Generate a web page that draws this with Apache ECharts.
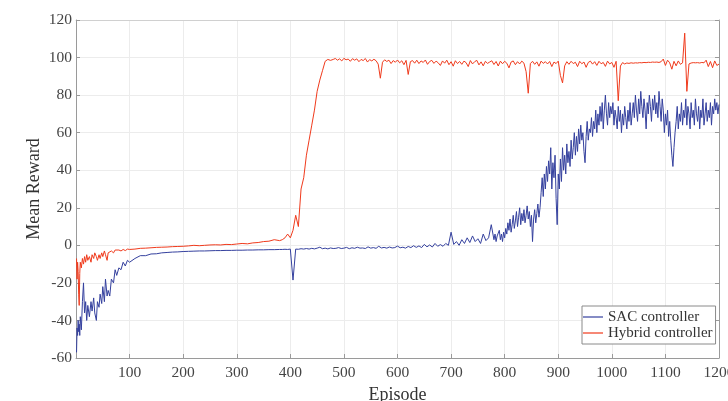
<!DOCTYPE html>
<html>
<head>
<meta charset="utf-8">
<script src="https://cdn.jsdelivr.net/npm/echarts@6/dist/echarts.min.js"></script>
<style>
html,body{margin:0;padding:0;background:#fff;}
#chart{width:728px;height:401px;}
</style>
</head>
<body>
<div id="chart"></div>
<script>
// ---- SAC controller: episodes and mean reward ----
var sacEpisodes = [
1,2,3,4,5,6,7,8,10,12,14,16,18,20,22,25,28,30,33,35,38,40,43,45,48,50,53,55,58,60,63,66,70,73,76,80,84,88,92,96,100,
110,120,130,140,150,160,170,180,190,200,210,220,230,240,250,260,270,280,290,300,310,320,330,340,350,360,370,380,
385,390,395,400,405,410,415,420,425,430,435,440,445,450,455,460,465,470,475,480,
485,490,495,500,505,510,515,520,525,530,
535,540,545,550,555,560,565,570,575,580,
585,590,595,600,605,610,615,620,625,630,
635,640,645,650,655,660,665,670,675,680,
685,690,695,700,705,710,715,720,725,730,
735,740,745,750,755,760,765,770,775,
780,782,784,786,788,790,792,794,796,798,
800,802,804,806,808,810,812,814,816,818,
820,822,824,826,828,830,832,834,836,838,
840,842,844,846,848,850,852,854,856,858,
860,862,864,866,868,870,872,874,876,878,
880,882,884,886,888,890,892,894,896,898,
900,902,904,906,908,910,912,914,916,918,
920,922,924,926,928,930,932,934,936,938,
940,942,944,946,948,950,952,954,956,958,
960,962,964,966,968,970,972,974,976,978,
980,982,984,986,988,990,992,994,996,998,
1000,1002,1004,1006,1008,1010,1012,1014,1016,1018,
1020,1022,1024,1026,1028,1030,1032,1034,1036,1038,
1040,1042,1044,1046,1048,1050,1052,1054,1056,1058,
1060,1062,1064,1066,1068,1070,1072,1074,1076,1078,
1080,1082,1084,1086,1088,1090,1092,1094,1096,1098,
1100,1102,1104,1106,1108,1110,1112,1114,1116,1118,
1120,1122,1124,1126,1128,1130,1132,1134,1136,1138,
1140,1142,1144,1146,1148,1150,1152,1154,1156,1158,
1160,1162,1164,1166,1168,1170,1172,1174,1176,1178,
1180,1182,1184,1186,1188,1190,1192,1194,1196,1198,
1200
];
var sacReward = [
-57,-44,-48,-40,-46,-42,-48,-38,-45,-30,-20,-36,-30,-40,-32,-38,-30,-35,-28,-36,-40,-30,-33,-26,-31,-22,-30,-18,-27,-24,-27,-18,-20,-13,-16,-12,-13,-9,-11,-8,-9,
-7,-5.5,-5.5,-4.6,-4.5,-4,-3.8,-3.6,-3.5,-3.3,-3.2,-3.1,-3,-3,-2.9,-2.8,-2.8,-2.7,-2.7,-2.6,-2.6,-2.5,-2.5,-2.4,-2.4,-2.3,-2.3,-2.2,
-2.2,-2.1,-2.2,-2,-18.5,-2,-2.1,-1.8,-2,-1.7,-2,-1.6,-1.9,-1.5,-1,-1.8,-1.5,-1.9,-1.4,-1.7,
-1.6,-1.2,-1.7,-1.5,-1.1,-1.8,-1.3,-1.6,-1,-1.5,
-1.4,-1.7,-0.8,-1.5,-1.2,-1.6,-0.5,-1.4,-1.1,-1.5,
-0.9,-1.4,-1.2,-0.4,-1.3,-1,-1.5,-0.6,-1.2,-0.2,
-1.1,-0.3,-1.2,0.5,-0.8,0.2,-0.9,1,-0.5,0.4,
-0.5,1,0,7,0.5,2,0,3,1,4,
1.5,5,2,3.5,1,6,2.5,4,11,
3,6,2,5,4,8,3,6,2,7,
4,9,6,12,8,14,7,11,16,9,
13,18,10,15,20,11,17,13,19,12,
16,21,14,18,10,16,2,14,19,12,
17,22,15,20,28,36,26,38,30,42,
34,45,38,52,30,44,36,48,25,11,
38,30,46,34,52,40,48,38,54,44,
50,42,56,46,52,60,48,58,50,62,
54,64,56,60,50,44,58,66,56,62,
60,68,58,66,62,72,60,70,64,74,
66,76,62,72,80,70,64,76,68,74,
70,76,64,72,68,62,74,66,72,60,
70,64,74,68,62,72,66,76,64,70,
76,68,80,72,66,78,70,82,74,68,
78,72,62,76,70,80,74,66,78,72,
80,70,76,68,82,74,66,78,72,60,
70,64,72,58,66,56,48,42,52,60,
66,74,62,70,66,76,64,72,68,78,
64,74,70,62,76,68,72,64,78,70,
66,74,62,72,68,78,64,70,76,66,
72,68,76,64,74,70,78,72,76,70,
75
];

// ---- Hybrid controller: episodes and mean reward ----
var hybridEpisodes = [
1,2,3,4,5,6,7,8,10,12,14,16,18,20,22,25,28,30,33,35,38,40,43,45,48,50,53,55,58,60,63,66,70,73,76,80,84,88,92,96,100,
110,120,130,140,150,160,170,180,190,200,210,220,230,240,250,260,270,280,290,300,310,320,330,340,350,360,370,380,
385,390,395,400,405,410,415,420,425,430,435,440,445,450,455,460,465,470,475,
480,484,488,492,496,500,504,508,512,516,
520,524,528,532,536,540,544,548,552,556,
560,564,568,572,576,580,584,588,592,596,
600,604,608,612,616,620,624,628,632,636,
640,644,648,652,656,660,664,668,672,676,
680,684,688,692,696,700,704,708,712,716,
720,724,728,732,736,740,744,748,752,756,
760,764,768,772,776,780,784,788,792,796,
800,804,808,812,816,820,824,828,832,836,
840,844,848,852,856,860,864,868,872,876,
880,884,888,892,896,900,904,908,912,916,
920,924,928,932,936,940,944,948,952,956,
960,964,968,972,976,980,984,988,992,996,
1000,1004,1008,1012,1016,1020,1024,1028,1032,1036,
1040,1044,1048,1052,1056,1060,1064,1068,1072,1076,
1080,1084,1088,1092,1096,1100,1104,1108,1112,1116,
1120,1124,1128,1132,1136,1140,1144,1148,1152,1156,
1160,1164,1168,1172,1176,1180,1184,1188,1192,1196,
1200
];
var hybridReward = [
-7,-18,-9,-14,-26,-32,-15,-9,-12,-7,-10,-6,-9,-5,-8,-6,-9,-5,-7,-4,-6,-8,-5,-7,-4,-6,-3,-5,-8,-4,-5,-3,-4,-2.5,-3.5,-2.5,-3,-2.2,-2.8,-2,-2.2,
-2,-1.6,-1.5,-1.3,-1.1,-1,-0.9,-0.7,-0.6,-0.5,-0.3,0,-0.2,0,0.2,0.3,0.2,0.5,0.4,0.7,1,0.8,1.3,1.5,2,2.2,3,2.5,
3,4,6,4,8,16,10,30,36,48,56,64,72,82,88,93,98,99,98.5,
99,99.5,98.6,99.3,98.2,99.6,98.8,99.2,98,99.4,
98.6,99.3,97.8,99,98.4,99.5,97.6,98.9,98.2,99.1,
98.3,96.5,89,97.5,98.8,97.9,98.6,96.8,98.4,97.5,
98.7,97.2,98.3,96.2,98.5,91,97.8,98.4,97,98.6,
96.8,98.2,97.4,98.7,96.4,97.9,98.5,96.9,98.1,97.2,
95.8,98.2,97,98.6,96.2,97.8,95.4,98.3,96.8,97.9,
96.4,98.1,97.3,95.2,98.4,96.6,97.8,98.5,96.1,97.7,
95.6,98,96.9,97.6,98.3,96.3,97.9,95.5,98.1,96.7,
98,97,94.5,97.6,98.2,96.2,97.8,96.6,98.1,97,
92.5,81,96.8,98,96.4,97.7,95.4,98.1,96.9,97.8,
96.6,97.9,95.2,97.6,96.8,98.1,90.5,86.5,95.6,97.8,
96.4,98,96.8,97.5,95.2,98,96.7,97.6,94.8,97.4,
98.1,96.5,97.8,95.8,98,96.7,97.4,95.3,98.1,96.6,
97.4,94.8,98,77,95.5,97.3,96.6,97.1,96.9,97.2,
97,97.2,97.1,97.3,97.2,97.4,97.3,97.5,97.4,97.6,
97.5,97.6,97.4,97.8,99.2,95.8,98.6,97.2,93.8,98,
95.6,98.2,96.4,97.2,113,82,96.6,97.1,97.3,97.2,
97.3,97.1,97.4,97.2,98.6,95.2,97.9,94.6,98.2,95.8,
96.5
];

var xTicks = [100,200,300,400,500,600,700,800,900,1000,1100,1200];
var yTicks = [-60,-40,-20,0,20,40,60,80,100,120];

function pairs(xs, ys){ return xs.map(function(x,i){ return [x, ys[i]]; }); }

var serif = '"Liberation Serif","DejaVu Serif",serif';
var axisGray = '#9a9a9a';
var chart = echarts.init(document.getElementById('chart'), null, {renderer:'canvas'});
chart.setOption({
  backgroundColor:'#ffffff',
  animation:false,
  grid:{left:76, right:9, top:20, bottom:43, outerBoundsMode:'none', containLabel:false},
  legend:{
    left:582, top:306, orient:'vertical',
    icon:'rect', itemWidth:20, itemHeight:1.2, itemGap:0,
    padding:[3,3,3,1],
    backgroundColor:'#fff', borderColor:'#8a8a8a', borderWidth:1, borderRadius:0,
    textStyle:{fontFamily:serif, fontSize:15, lineHeight:16, color:'#333'},
    data:['SAC controller','Hybrid controller']
  },
  xAxis:[{
    type:'value', min:0, max:1200, interval:100,
    name:'Episode', nameLocation:'middle', nameGap:28, nameMoveOverlap:false,
    nameTextStyle:{fontFamily:serif, fontSize:18, color:'#333', verticalAlign:'top'},
    axisLine:{show:true, onZero:false, lineStyle:{color:axisGray, width:1}},
    axisTick:{show:true, inside:true, length:4, lineStyle:{color:axisGray}},
    axisLabel:{fontFamily:serif, fontSize:15.5, color:'#444', margin:7, showMinLabel:false, hideOverlap:false,
      formatter:function(v){ return xTicks.indexOf(v) >= 0 ? String(v) : ''; }},
    splitLine:{show:true, lineStyle:{color:'#ececec', width:1}}
  },{
    type:'value', position:'top', min:0, max:1200, interval:100,
    axisLine:{show:true, onZero:false, lineStyle:{color:'#d0d0d0', width:1}},
    axisTick:{show:false}, axisLabel:{show:false}, splitLine:{show:false}
  }],
  yAxis:[{
    type:'value', min:-60, max:120, interval:20,
    name:'Mean Reward', nameLocation:'middle', nameGap:33, nameMoveOverlap:false,
    nameTextStyle:{fontFamily:serif, fontSize:18, color:'#333', verticalAlign:'bottom'},
    axisLine:{show:true, onZero:false, lineStyle:{color:axisGray, width:1}},
    axisTick:{show:true, inside:true, length:4, lineStyle:{color:axisGray}},
    axisLabel:{fontFamily:serif, fontSize:15.5, color:'#444', margin:4,
      formatter:function(v){ return yTicks.indexOf(v) >= 0 ? String(v) : ''; }},
    splitLine:{show:true, lineStyle:{color:'#ececec', width:1}}
  },{
    type:'value', position:'right', min:-60, max:120, interval:20,
    axisLine:{show:true, onZero:false, lineStyle:{color:axisGray, width:1}},
    axisTick:{show:true, inside:true, length:4, lineStyle:{color:axisGray}},
    axisLabel:{show:false}, splitLine:{show:false}
  }],
  series:[{
    name:'SAC controller', type:'line', symbol:'none', xAxisIndex:0, yAxisIndex:0,
    data:pairs(sacEpisodes, sacReward),
    lineStyle:{color:'#34409e', width:1}, itemStyle:{color:'#34409e'}
  },{
    name:'Hybrid controller', type:'line', symbol:'none', xAxisIndex:0, yAxisIndex:0,
    data:pairs(hybridEpisodes, hybridReward),
    lineStyle:{color:'#f03a1c', width:1}, itemStyle:{color:'#f03a1c'}
  }]
});
</script>
</body>
</html>
